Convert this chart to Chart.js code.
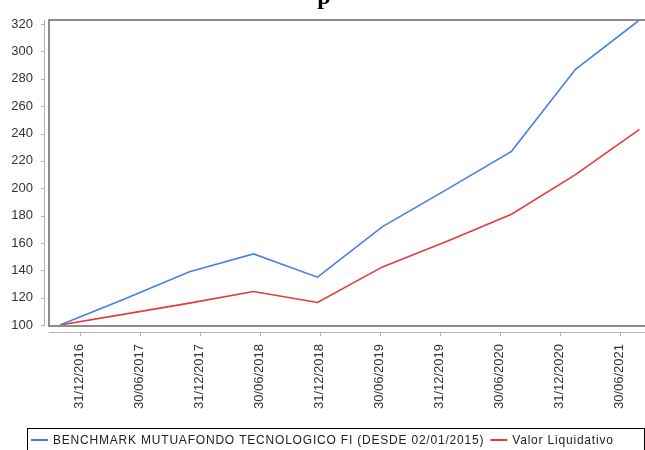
<!DOCTYPE html>
<html>
<head>
<meta charset="utf-8">
<script src="https://cdn.jsdelivr.net/npm/chart.js@4/dist/chart.umd.min.js"></script>
<style>
    html, body { margin: 0; padding: 0; background: #fff; overflow: hidden; }
    #wrap { position: relative; width: 660px; height: 470px; }
</style>
</head>
<body>
<div id="wrap"><canvas id="myChart"></canvas></div>
<script>
// x positions are months counted from 31/12/2016
const pointMonths = [-1.95, 4.5, 11.0, 17.4, 23.8, 30.3, 36.7, 43.2, 49.6, 56.0];
const benchmarkValues = [100, 119, 139, 152, 135, 172, 199, 227, 287, 323];
const valorValues = [100, 108, 116, 124.5, 116.5, 142.5, 161, 181, 210, 243];

const tickMonths = [0, 6, 12, 18, 24, 30, 36, 42, 48, 54];
const tickLabels = ["31/12/2016", "30/06/2017", "31/12/2017", "30/06/2018", "31/12/2018",
    "30/06/2019", "31/12/2019", "30/06/2020", "31/12/2020", "30/06/2021"];
const yTicks = [100, 120, 140, 160, 180, 200, 220, 240, 260, 280, 300, 320];

const seriesNames = ["BENCHMARK MUTUAFONDO TECNOLOGICO FI (DESDE 02/01/2015)", "Valor Liquidativo"];
const seriesColors = ["#4b7fe0", "#e23c3c"];

const ctx = document.getElementById("myChart");
const labelFont = { family: "'Liberation Sans', Arial, sans-serif", size: 13 };

let toPoints = (values) => values.map((v, i) => ({ x: pointMonths[i], y: v }));

// frame, offset axis lines, cut title and boxed legend
const decorations = {
    id: "decorations",
    afterDraw(chart) {
        const c = chart.ctx;
        const area = chart.chartArea;
        const xs = chart.scales.x;
        const ys = chart.scales.y;
        c.save();

        c.strokeStyle = "#8c8c8c";
        c.lineWidth = 2;
        c.strokeRect(area.left, area.top, area.right - area.left, area.bottom - area.top);

        c.strokeStyle = "#b4b4b4";
        c.lineWidth = 1;
        c.beginPath();
        c.moveTo(44.5, area.top);
        c.lineTo(44.5, area.bottom);
        ys.ticks.forEach(t => {
            const py = Math.round(ys.getPixelForValue(t.value)) + 0.5;
            c.moveTo(41, py);
            c.lineTo(44.5, py);
        });
        c.moveTo(area.left, 332.5);
        c.lineTo(area.right, 332.5);
        xs.ticks.forEach(t => {
            const px = Math.round(xs.getPixelForValue(t.value)) + 0.5;
            c.moveTo(px, 332.5);
            c.lineTo(px, 336);
        });
        c.stroke();

        c.fillStyle = "#000";
        c.font = "bold 24px 'Liberation Serif', serif";
        c.textAlign = "center";
        c.textBaseline = "alphabetic";
        c.fillText("p", 324, 4);

        // legend
        c.strokeStyle = "#000";
        c.lineWidth = 1;
        c.strokeRect(27.5, 428.5, 617, 40);
        c.font = "12px 'Liberation Sans', Arial, sans-serif";
        c.letterSpacing = "0.8px";
        c.textAlign = "left";
        c.textBaseline = "middle";
        c.fillStyle = "#222";
        let lx = 31;
        const ly = 440;
        chart.data.datasets.forEach(ds => {
            c.strokeStyle = ds.borderColor;
            c.lineWidth = 2;
            c.beginPath();
            c.moveTo(lx, ly);
            c.lineTo(lx + 17, ly);
            c.stroke();
            c.fillText(ds.label, lx + 22, ly + 1);
            lx += 22 + c.measureText(ds.label).width + 6;
        });
        c.restore();
    }
};

const myChart = new Chart(ctx, {
    type: "line",
    data: {
        datasets: [
            {
                label: seriesNames[0],
                data: toPoints(benchmarkValues),
                borderColor: seriesColors[0],
                backgroundColor: seriesColors[0],
                borderWidth: 1.6,
                pointRadius: 0,
                tension: 0
            },
            {
                label: seriesNames[1],
                data: toPoints(valorValues),
                borderColor: seriesColors[1],
                backgroundColor: seriesColors[1],
                borderWidth: 1.6,
                pointRadius: 0,
                tension: 0
            }
        ]
    },
    options: {
        responsive: true,
        maintainAspectRatio: false,
        animation: false,
        layout: { padding: { top: 20, right: 10, left: 0, bottom: 0 } },
        scales: {
            x: {
                type: "linear",
                min: -3.05,
                max: 57.05,
                grid: { display: false },
                border: { display: false },
                afterBuildTicks: (scale) => {
                    scale.ticks = tickMonths.map(v => ({ value: v }));
                },
                afterFit: (scale) => { scale.height = 144; },
                ticks: {
                    autoSkip: false,
                    minRotation: 90,
                    maxRotation: 90,
                    padding: 10,
                    color: "#333",
                    font: labelFont,
                    callback: (value, index) => tickLabels[index]
                }
            },
            y: {
                min: 99.3,
                max: 323,
                grid: { display: false },
                border: { display: false },
                afterBuildTicks: (scale) => {
                    scale.ticks = yTicks.map(v => ({ value: v }));
                },
                afterFit: (scale) => { scale.width = 49; },
                ticks: {
                    padding: 8,
                    color: "#333",
                    font: labelFont
                }
            }
        },
        plugins: {
            legend: { display: false },
            tooltip: { enabled: false }
        }
    },
    plugins: [decorations]
});
</script>
</body>
</html>
